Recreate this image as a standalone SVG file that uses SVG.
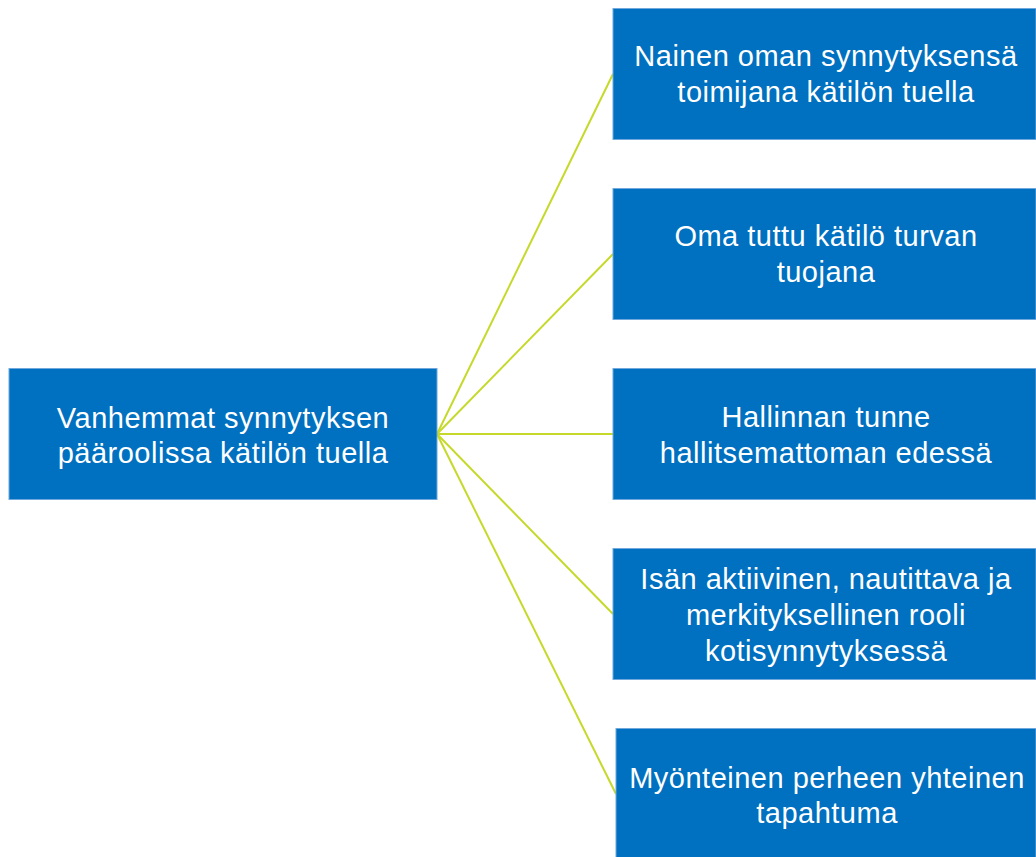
<svg xmlns="http://www.w3.org/2000/svg" width="1036" height="857" viewBox="0 0 1036 857">
<style>
.box{fill:#0070C0;stroke:#6FA8DC;stroke-width:1}
.t{font-family:"Liberation Sans",Arial,sans-serif;font-size:29px;fill:#FFFFFF;text-anchor:middle;letter-spacing:0.5px}
.c{stroke:#C6D92A;stroke-width:2;fill:none}
</style>
<rect width="1036" height="857" fill="#FFFFFF"/>
<g id="connectors">
<line class="c" x1="437" y1="434" x2="613" y2="74"/>
<line class="c" x1="437" y1="434" x2="613" y2="254"/>
<line class="c" x1="437" y1="434" x2="613" y2="434"/>
<line class="c" x1="437" y1="434" x2="613" y2="614"/>
<line class="c" x1="437" y1="434" x2="616" y2="794"/>
</g>
<g id="root">
<rect class="box" x="9" y="368.5" width="428" height="131"/>
<text class="t" x="223" y="428">Vanhemmat synnytyksen</text>
<text class="t" x="223" y="463">pääroolissa kätilön tuella</text>
</g>
<g id="n1">
<rect class="box" x="613" y="8.5" width="423" height="131"/>
<text class="t" x="826" y="66">Nainen oman synnytyksensä</text>
<text class="t" x="826" y="102">toimijana kätilön tuella</text>
</g>
<g id="n2">
<rect class="box" x="613" y="188.5" width="423" height="131"/>
<text class="t" x="826" y="246">Oma tuttu kätilö turvan</text>
<text class="t" x="826" y="282">tuojana</text>
</g>
<g id="n3">
<rect class="box" x="613" y="368.5" width="423" height="131"/>
<text class="t" x="826" y="427">Hallinnan tunne</text>
<text class="t" x="826" y="463">hallitsemattoman edessä</text>
</g>
<g id="n4">
<rect class="box" x="613" y="548.5" width="423" height="131"/>
<text class="t" x="826" y="589">Isän aktiivinen, nautittava ja</text>
<text class="t" x="826" y="625">merkityksellinen rooli</text>
<text class="t" x="826" y="661">kotisynnytyksessä</text>
</g>
<g id="n5">
<rect class="box" x="616" y="728.5" width="420" height="131"/>
<text class="t" x="827" y="788">Myönteinen perheen yhteinen</text>
<text class="t" x="827" y="823">tapahtuma</text>
</g>
</svg>
